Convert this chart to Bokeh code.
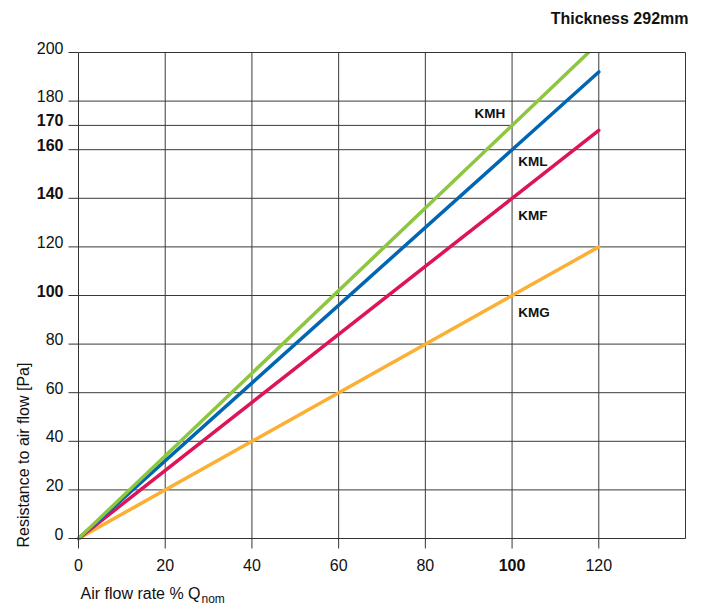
import math
from bokeh.plotting import figure
from bokeh.models import Range1d, ColumnDataSource
from bokeh.core.properties import value
from bokeh.embed import file_html
from bokeh.resources import INLINE

# ---- data ----
flow = [0, 100, 120]
kmh = [0, 170, 204]
kml = [0, 160, 192]
kmf = [0, 140, 168]
kmg = [0, 100, 120]
series_names = ["KMG", "KMF", "KML", "KMH"]
series_values = [kmg, kmf, kml, kmh]
series_colors = ["#fbb034", "#dd1458", "#0066b3", "#8dc63f"]
label_pos = {"KMH": (98.4, 175, "right"), "KML": (101.4, 155.2, "left"),
             "KMF": (101.4, 133, "left"), "KMG": (101.4, 93, "left")}
y_ticks = [0, 20, 40, 60, 80, 100, 120, 140, 160, 170, 180, 200]
y_bold = [100, 140, 160, 170]
x_ticks = [0, 20, 40, 60, 80, 100, 120]
x_bold = [100]
grid_x = [20, 40, 60, 80, 100, 120]
grid_y = [20, 40, 60, 80, 100, 120, 140, 160, 180]
partial_grid = (170, 0, 100)
X_MAX, Y_MAX = 140, 200

# ---- layout (pixels) ----
W, H = 703, 604
LEFT, RIGHT, TOP, BOTTOM = 78, 685, 52, 538
sx = (RIGHT - LEFT) / X_MAX
sy = (BOTTOM - TOP) / Y_MAX


def dx(px):  # pixel length -> data length (x)
    return px / sx


def dy(px):
    return px / sy


def X(px):  # page pixel -> data x
    return (px - LEFT) / sx


def Y(py):  # page pixel -> data y
    return (BOTTOM - py) / sy


FONT = "Liberation Sans"
INK = "#111111"
GRID = "#3a3a3a"

p = figure(width=W, height=H, min_border=0,
           x_range=Range1d(X(0), X(W)), y_range=Range1d(Y(H), Y(0)),
           output_backend="svg", toolbar_location=None)
p.xaxis.visible = False
p.yaxis.visible = False
p.grid.visible = False
p.outline_line_color = None

# grid
p.segment(x0=grid_x, y0=[0] * len(grid_x), x1=grid_x, y1=[Y_MAX] * len(grid_x),
          line_color=GRID, line_width=1)
p.segment(x0=[0] * len(grid_y), y0=grid_y, x1=[X_MAX] * len(grid_y), y1=grid_y,
          line_color=GRID, line_width=1)
p.segment(x0=[partial_grid[1]], y0=[partial_grid[0]], x1=[partial_grid[2]],
          y1=[partial_grid[0]], line_color=GRID, line_width=1)

# series
for name, vals, col in zip(series_names, series_values, series_colors):
    p.line(flow, vals, line_color=col, line_width=3.5, line_cap="round")
    lx, ly, al = label_pos[name]
    p.text(x=[lx], y=[ly], text=[name], text_align=al, text_baseline="middle",
           text_font=value(FONT), text_font_size="13.5px", text_font_style="bold",
           text_color=INK)

# clip anything that runs past the top of the plotting area
p.quad(left=[X(LEFT - 3)], right=[X(RIGHT + 3)], bottom=[Y_MAX], top=[Y(TOP - 12)],
       fill_color="white", line_color=None)

# frame / axes
p.quad(left=[0], right=[X_MAX], bottom=[0], top=[Y_MAX], fill_color=None,
       line_color="#333333", line_width=1)
p.segment(x0=[-dx(10)] * len(y_ticks), y0=y_ticks, x1=[0] * len(y_ticks), y1=y_ticks,
          line_color="#333333", line_width=1)
p.segment(x0=x_ticks, y0=[0] * len(x_ticks), x1=x_ticks, y1=[-dy(10)] * len(x_ticks),
          line_color="#333333", line_width=1)

ysrc = ColumnDataSource(dict(
    x=[-dx(15)] * len(y_ticks), y=[v + dy(5) for v in y_ticks],
    text=[str(v) for v in y_ticks],
    style=["bold" if v in y_bold else "normal" for v in y_ticks]))
p.text(x="x", y="y", text="text", text_font_style="style", source=ysrc,
       text_align="right", text_baseline="middle", text_font=value(FONT),
       text_font_size="16px", text_color=INK)
xsrc = ColumnDataSource(dict(
    x=x_ticks, y=[-dy(26)] * len(x_ticks), text=[str(v) for v in x_ticks],
    style=["bold" if v in x_bold else "normal" for v in x_ticks]))
p.text(x="x", y="y", text="text", text_font_style="style", source=xsrc,
       text_align="center", text_baseline="middle", text_font=value(FONT),
       text_font_size="16px", text_color=INK)

# titles
p.text(x=[X(23)], y=[Y(547)], text=["Resistance to air flow [Pa]"], angle=math.pi / 2,
       text_align="left", text_baseline="middle", text_font=value(FONT),
       text_font_size="16px", text_color=INK)
p.text(x=[X(80)], y=[Y(593)], text=["Air flow rate % Q"], text_align="left",
       text_baseline="middle", text_font=value(FONT), text_font_size="16px",
       text_color=INK)
p.text(x=[X(201)], y=[Y(598)], text=["nom"], text_align="left",
       text_baseline="middle", text_font=value(FONT), text_font_size="12px",
       text_color=INK)
p.text(x=[X(688)], y=[Y(18)], text=["Thickness 292mm"], text_align="right",
       text_baseline="middle", text_font=value(FONT), text_font_size="16px",
       text_font_style="bold", text_color=INK)

open("out.html", "w").write(file_html(p, INLINE))
